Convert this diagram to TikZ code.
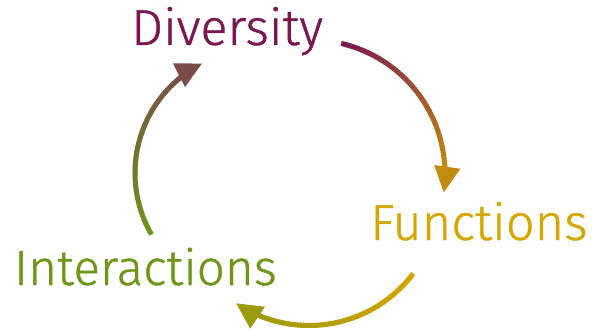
\documentclass[tikz,border=0pt]{standalone}
\usepackage{fontspec}
\setmainfont{Fira Sans Light}[FakeBold=0.8]
\usetikzlibrary{arrows.meta,calc}
\definecolor{divc}{HTML}{7B1652}
\definecolor{func}{HTML}{D6A600}
\definecolor{intc}{HTML}{6E9619}
\definecolor{aonee}{HTML}{C38A10}
\definecolor{athree}{HTML}{9C9A0E}
\definecolor{afour}{HTML}{7A4C48}
% #1 centre, #2 radius, #3 start angle, #4 end angle, #5 start colour, #6 end colour, #7 steps
\newcommand\gradarc[7]{%
  \foreach \i in {1,...,#7}{%
    \pgfmathsetmacro\aa{#3+(#4-#3)*(\i-1)/#7}%
    \pgfmathsetmacro\ab{#3+(#4-#3)*(\i+0.4)/#7}%
    \pgfmathtruncatemacro\pc{100*(\i-0.5)/#7}%
    \draw[arcline,#6!\pc!#5] ($(#1)+(\aa:#2)$) arc[start angle=\aa,end angle=\ab,radius=#2];
  }%
}
\begin{document}
\begin{tikzpicture}[x=1pt,y=1pt,
  arcline/.style={line width=5pt,line cap=butt},
  headtip/.style={line width=5pt,-{Triangle[length=26pt,width=25pt]}},
  lbl/.style={anchor=base west,inner sep=0pt}]
\useasboundingbox (0,0) rectangle (592,330);
\coordinate (c1) at (311,156);
\coordinate (c3) at (309,135);
\coordinate (c4) at (258,157);
\node[lbl,text=divc,font=\fontsize{50.5}{50.5}\selectfont] (div) at (131,285) {Diversity};
\node[lbl,text=func,font=\fontsize{50.5}{50.5}\selectfont] (fun) at (370,90) {Functions};
\node[lbl,text=intc,font=\fontsize{49.5}{49.5}\selectfont] (int) at (14,45) {Interactions};
% arc Diversity -> Functions
\gradarc{c1}{134}{77}{2}{divc}{aonee}{60}
\draw[headtip,aonee] ($(c1)+(5:134)$) arc[start angle=5,end angle=-8,radius=134];
% arc Functions -> Interactions
\gradarc{c3}{130.5}{-37}{-114}{func}{athree}{60}
\draw[headtip,athree] ($(c3)+(-111:130.5)$) arc[start angle=-111,end angle=-124,radius=130.5];
% arc Interactions -> Diversity
\gradarc{c4}{123}{210}{128}{intc}{afour}{60}
\draw[headtip,afour] ($(c4)+(130:123)$) arc[start angle=130,end angle=117,radius=123];
\end{tikzpicture}
\end{document}
